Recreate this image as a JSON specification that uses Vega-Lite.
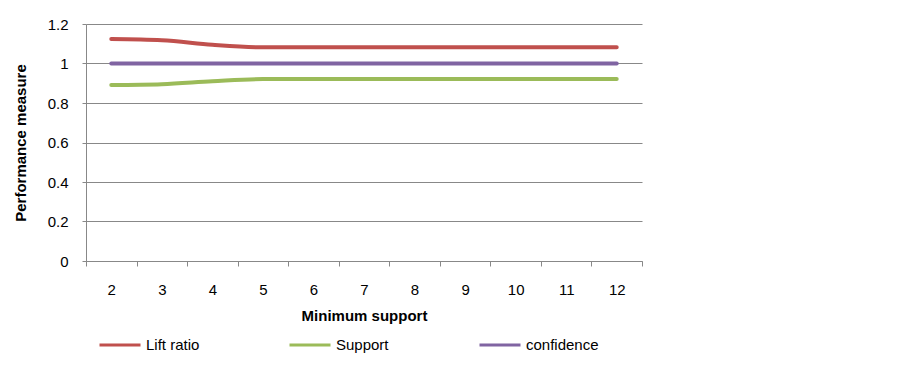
{
  "$schema": "https://vega.github.io/schema/vega-lite/v6.json",
  "width": 556,
  "height": 237,
  "autosize": {"type": "none"},
  "padding": {"left": 86, "top": 24, "right": 257, "bottom": 106},
  "background": "white",
  "data": {"values": [
    {"support": 2, "series": "Lift ratio", "value": 1.124},
    {"support": 3, "series": "Lift ratio", "value": 1.118},
    {"support": 4, "series": "Lift ratio", "value": 1.095},
    {"support": 5, "series": "Lift ratio", "value": 1.082},
    {"support": 6, "series": "Lift ratio", "value": 1.082},
    {"support": 7, "series": "Lift ratio", "value": 1.082},
    {"support": 8, "series": "Lift ratio", "value": 1.082},
    {"support": 9, "series": "Lift ratio", "value": 1.082},
    {"support": 10, "series": "Lift ratio", "value": 1.082},
    {"support": 11, "series": "Lift ratio", "value": 1.082},
    {"support": 12, "series": "Lift ratio", "value": 1.082},
    {"support": 2, "series": "Support", "value": 0.891},
    {"support": 3, "series": "Support", "value": 0.895},
    {"support": 4, "series": "Support", "value": 0.91},
    {"support": 5, "series": "Support", "value": 0.921},
    {"support": 6, "series": "Support", "value": 0.921},
    {"support": 7, "series": "Support", "value": 0.921},
    {"support": 8, "series": "Support", "value": 0.921},
    {"support": 9, "series": "Support", "value": 0.921},
    {"support": 10, "series": "Support", "value": 0.921},
    {"support": 11, "series": "Support", "value": 0.921},
    {"support": 12, "series": "Support", "value": 0.921},
    {"support": 2, "series": "confidence", "value": 1},
    {"support": 3, "series": "confidence", "value": 1},
    {"support": 4, "series": "confidence", "value": 1},
    {"support": 5, "series": "confidence", "value": 1},
    {"support": 6, "series": "confidence", "value": 1},
    {"support": 7, "series": "confidence", "value": 1},
    {"support": 8, "series": "confidence", "value": 1},
    {"support": 9, "series": "confidence", "value": 1},
    {"support": 10, "series": "confidence", "value": 1},
    {"support": 11, "series": "confidence", "value": 1},
    {"support": 12, "series": "confidence", "value": 1}
  ]},
  "mark": {"type": "line", "strokeWidth": 4, "interpolate": "monotone", "strokeCap": "round"},
  "encoding": {
    "x": {
      "field": "support", "type": "ordinal",
      "scale": {"type": "band", "paddingInner": 0, "paddingOuter": 0},
      "axis": {
        "title": "Minimum support",
        "labelAngle": 0,
        "tickBand": "extent",
        "tickSize": 5,
        "tickColor": "#888888",
        "domainColor": "#888888",
        "labelPadding": 16,
        "titlePadding": 11,
        "grid": false
      }
    },
    "y": {
      "field": "value", "type": "quantitative",
      "scale": {"domain": [0, 1.2]},
      "axis": {
        "title": "Performance measure",
        "values": [0, 0.2, 0.4, 0.6, 0.8, 1, 1.2],
        "labelExpr": "datum.value == 1.2 ? '1.2' : format(datum.value, '~g')",
        "tickSize": 4,
        "tickColor": "#888888",
        "domainColor": "#888888",
        "gridColor": "#888888",
        "labelPadding": 14,
        "titlePadding": 19
      }
    },
    "color": {
      "field": "series", "type": "nominal",
      "scale": {"domain": ["Lift ratio", "Support", "confidence"], "range": ["#C0504D", "#9BBB59", "#8064A2"]},
      "legend": {
        "title": null,
        "orient": "none",
        "direction": "horizontal",
        "legendX": 12,
        "legendY": 299,
        "columns": 3,
        "gridAlign": "all",
        "columnPadding": 64,
        "symbolType": "stroke",
        "symbolSize": 1681,
        "symbolStrokeWidth": 3,
        "labelOffset": 4
      }
    }
  },
  "config": {
    "font": "Liberation Sans",
    "view": {"stroke": null},
    "axis": {
      "labelFont": "Liberation Sans", "labelFontSize": 15, "labelColor": "black",
      "titleFont": "Liberation Sans", "titleFontSize": 15, "titleFontWeight": "bold", "titleColor": "black",
      "domainWidth": 1, "gridWidth": 1
    },
    "legend": {"labelFont": "Liberation Sans", "labelFontSize": 15, "labelColor": "black"}
  }
}
